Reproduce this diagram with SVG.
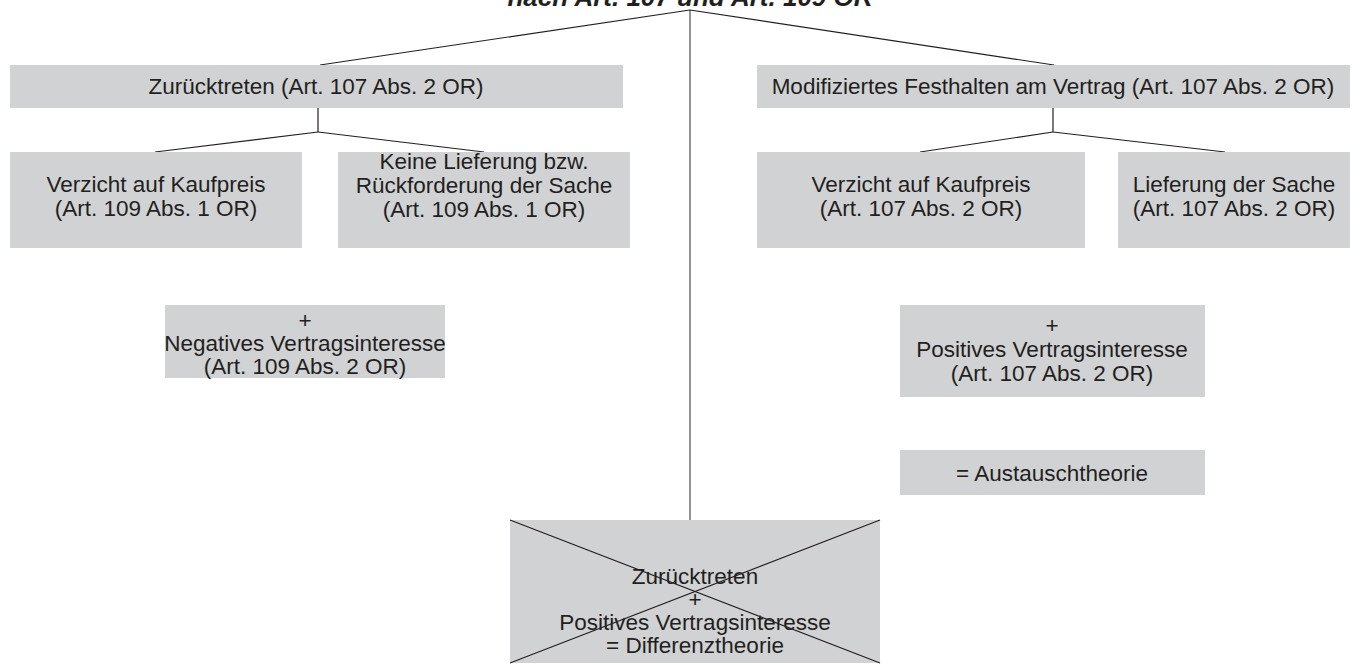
<svg xmlns="http://www.w3.org/2000/svg" width="1360" height="665" viewBox="0 0 1360 665">
<style>
.box{fill:#d1d2d4;}
.t{font-family:"Liberation Sans",Arial,sans-serif;font-size:22.5px;fill:#231f20;text-anchor:middle;}
.title{font-family:"Liberation Sans",Arial,sans-serif;font-size:26px;font-weight:bold;font-style:italic;fill:#231f20;text-anchor:middle;}
.ln{stroke:#231f20;stroke-width:1.2;fill:none;}
.main{stroke:#7a7a7a;stroke-width:1.6;fill:none;}
</style>
<rect width="1360" height="665" fill="#ffffff"/>
<text class="title" x="690" y="6">nach Art. 107 und Art. 109 OR</text>
<g id="connectors">
<line class="main" x1="690" y1="10" x2="690" y2="520"/>
<line class="ln" x1="690" y1="10" x2="320" y2="65"/>
<line class="ln" x1="690" y1="10" x2="1054" y2="65"/>
<line class="ln" x1="318" y1="108" x2="318" y2="132"/>
<line class="ln" x1="318" y1="132" x2="155" y2="152"/>
<line class="ln" x1="318" y1="132" x2="484" y2="152"/>
<line class="ln" x1="1053" y1="108" x2="1053" y2="132"/>
<line class="ln" x1="1053" y1="132" x2="920" y2="152"/>
<line class="ln" x1="1053" y1="132" x2="1225" y2="152"/>
</g>
<g id="zuruecktreten">
<rect class="box" x="10" y="65" width="613" height="43"/>
<text class="t" x="316" y="94">Zurücktreten (Art. 107 Abs. 2 OR)</text>
</g>
<g id="festhalten">
<rect class="box" x="757" y="65" width="593" height="43"/>
<text class="t" x="1053" y="94">Modifiziertes Festhalten am Vertrag (Art. 107 Abs. 2 OR)</text>
</g>
<g id="verzicht1">
<rect class="box" x="10" y="152" width="292" height="96"/>
<text class="t" x="156" y="192">Verzicht auf Kaufpreis</text>
<text class="t" x="156" y="216">(Art. 109 Abs. 1 OR)</text>
</g>
<g id="keine">
<rect class="box" x="338" y="152" width="292" height="96"/>
<text class="t" x="484" y="169">Keine Lieferung bzw.</text>
<text class="t" x="484" y="193">Rückforderung der Sache</text>
<text class="t" x="484" y="217">(Art. 109 Abs. 1 OR)</text>
</g>
<g id="verzicht2">
<rect class="box" x="757" y="152" width="328" height="96"/>
<text class="t" x="921" y="192">Verzicht auf Kaufpreis</text>
<text class="t" x="921" y="216">(Art. 107 Abs. 2 OR)</text>
</g>
<g id="lieferung">
<rect class="box" x="1118" y="152" width="232" height="96"/>
<text class="t" x="1234" y="192">Lieferung der Sache</text>
<text class="t" x="1234" y="216">(Art. 107 Abs. 2 OR)</text>
</g>
<g id="negativ">
<rect class="box" x="165" y="305" width="280" height="73"/>
<text class="t" x="305" y="328">+</text>
<text class="t" x="305" y="351">Negatives Vertragsinteresse</text>
<text class="t" x="305" y="374">(Art. 109 Abs. 2 OR)</text>
</g>
<g id="positiv">
<rect class="box" x="900" y="305" width="305" height="92"/>
<text class="t" x="1052" y="333">+</text>
<text class="t" x="1052" y="357">Positives Vertragsinteresse</text>
<text class="t" x="1052" y="381">(Art. 107 Abs. 2 OR)</text>
</g>
<g id="austausch">
<rect class="box" x="900" y="450" width="305" height="45"/>
<text class="t" x="1052" y="481">= Austauschtheorie</text>
</g>
<g id="differenz">
<rect class="box" x="510" y="520" width="370" height="143"/>
<line class="ln" x1="510" y1="520" x2="880" y2="663"/>
<line class="ln" x1="880" y1="520" x2="510" y2="663"/>
<text class="t" x="695" y="584">Zurücktreten</text>
<text class="t" x="695" y="607">+</text>
<text class="t" x="695" y="630">Positives Vertragsinteresse</text>
<text class="t" x="695" y="653">= Differenztheorie</text>
</g>
</svg>
